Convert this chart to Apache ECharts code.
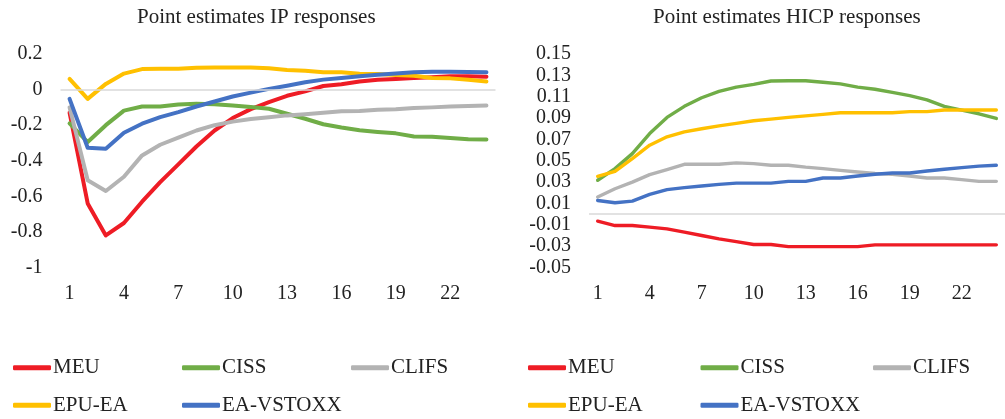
<!DOCTYPE html>
<html>
<head>
<meta charset="utf-8">
<script src="https://cdn.jsdelivr.net/npm/echarts@6/dist/echarts.min.js"></script>
<style>
  html, body { margin: 0; padding: 0; background: #fff; }
  #chart { width: 1005px; height: 419px; }
</style>
</head>
<body>
<div id="chart"></div>
<script>
// horizons 1..24
var periods = [];
for (var i = 1; i <= 24; i++) periods.push(String(i));

var seriesNames = ["MEU", "CISS", "CLIFS", "EPU-EA", "EA-VSTOXX"];
var colors = ["#ee1c25", "#70ad47", "#b3b3b3", "#ffc000", "#4472c4"];

// IP responses (left panel)
var ipMEU = [-0.13, -0.64, -0.82, -0.75, -0.63, -0.52, -0.42, -0.32, -0.23, -0.16, -0.11, -0.07,
  -0.035, -0.01, 0.02, 0.03, 0.045, 0.055, 0.06, 0.065, 0.07, 0.075, 0.075, 0.072];
var ipCISS = [-0.19, -0.295, -0.2, -0.118, -0.095, -0.095, -0.084, -0.08, -0.082, -0.09, -0.098, -0.108,
  -0.136, -0.164, -0.195, -0.213, -0.228, -0.238, -0.246, -0.264, -0.265, -0.272, -0.279, -0.28];
var ipCLIFS = [-0.10, -0.51, -0.57, -0.49, -0.37, -0.31, -0.27, -0.23, -0.2, -0.18, -0.165, -0.155,
  -0.145, -0.138, -0.13, -0.122, -0.12, -0.113, -0.11, -0.103, -0.1, -0.095, -0.092, -0.09];
var ipEPU = [0.06, -0.052, 0.032, 0.09, 0.115, 0.117, 0.117, 0.123, 0.124, 0.124, 0.124, 0.12,
  0.11, 0.106, 0.098, 0.097, 0.089, 0.088, 0.082, 0.078, 0.065, 0.063, 0.055, 0.045];
var ipVSTOXX = [-0.052, -0.327, -0.332, -0.243, -0.192, -0.155, -0.127, -0.095, -0.067, -0.039, -0.017, 0.004,
  0.022, 0.041, 0.056, 0.065, 0.075, 0.084, 0.09, 0.098, 0.1, 0.1, 0.099, 0.097];

// HICP responses (right panel)
var hicpMEU = [-0.0066, -0.0107, -0.0107, -0.0122, -0.0138, -0.0169, -0.02, -0.0232, -0.0258, -0.0285, -0.0285, -0.0304,
  -0.0304, -0.0304, -0.0304, -0.0304, -0.0288, -0.0288, -0.0288, -0.0288, -0.0288, -0.0288, -0.0288, -0.0288];
var hicpCISS = [0.0317, 0.0426, 0.0567, 0.0755, 0.0906, 0.101, 0.109, 0.115, 0.119, 0.1216, 0.1247, 0.125,
  0.125, 0.1235, 0.122, 0.119, 0.117, 0.114, 0.111, 0.107, 0.101, 0.0975, 0.094, 0.0896];
var hicpCLIFS = [0.016, 0.0238, 0.030, 0.037, 0.0417, 0.0467, 0.0467, 0.0467, 0.048, 0.0473, 0.0458, 0.0458,
  0.044, 0.0426, 0.041, 0.0395, 0.038, 0.0373, 0.0357, 0.0338, 0.0338, 0.0323, 0.0307, 0.0307];
var hicpEPU = [0.0354, 0.040, 0.052, 0.0646, 0.0724, 0.077, 0.080, 0.0827, 0.085, 0.0875, 0.089, 0.0906,
  0.092, 0.0934, 0.095, 0.095, 0.095, 0.095, 0.096, 0.096, 0.0975, 0.0975, 0.0975, 0.0975];
var hicpVSTOXX = [0.0128, 0.0107, 0.0122, 0.0185, 0.0229, 0.0248, 0.0263, 0.0279, 0.029, 0.029, 0.029, 0.0307,
  0.0307, 0.0338, 0.0338, 0.0357, 0.0373, 0.0385, 0.0385, 0.0404, 0.042, 0.0436, 0.045, 0.0458];

var ipData = [ipMEU, ipCISS, ipCLIFS, ipEPU, ipVSTOXX];
var hicpData = [hicpMEU, hicpCISS, hicpCLIFS, hicpEPU, hicpVSTOXX];

var font = "Liberation Serif";
var textColor = "#222";

function makeSeries(dataList, axisIndex, width) {
  var out = [];
  for (var i = 0; i < dataList.length; i++) {
    var s = {
      name: seriesNames[i],
      type: "line",
      xAxisIndex: axisIndex,
      yAxisIndex: axisIndex,
      data: dataList[i],
      symbol: "none",
      color: colors[i],
      lineStyle: { width: width, color: colors[i], cap: "round", join: "round" }
    };
    if (i === 0) {
      s.markLine = {
        silent: true,
        symbol: "none",
        label: { show: false },
        lineStyle: { color: "#d9d9d9", width: 1.5, type: "solid" },
        data: [{ yAxis: 0 }]
      };
    }
    out.push(s);
  }
  return out;
}

function xAxisFor(gridIndex) {
  return {
    type: "category",
    gridIndex: gridIndex,
    data: periods,
    boundaryGap: true,
    axisLine: { show: false },
    axisTick: { show: false },
    axisLabel: { interval: 2, margin: 16, color: textColor, fontFamily: font, fontSize: 20 }
  };
}

function legendFor(left, textWidth) {
  return {
    left: left,
    top: 354,
    width: 3 * (38 + 4 + textWidth + 10),
    padding: 0,
    itemGap: 10,
    icon: "roundRect",
    itemWidth: 38,
    itemHeight: 5,
    textStyle: { color: textColor, fontFamily: font, fontSize: 21, width: textWidth, lineHeight: 27.5, padding: [0, 0, 0, -3] },
    data: seriesNames
  };
}

var myChart = echarts.init(document.getElementById("chart"));

var option = {
  animation: false,
  backgroundColor: "#fff",
  title: [
    {
      text: "Point estimates IP responses",
      left: 137, top: 7, padding: 0,
      textStyle: { fontFamily: font, fontSize: 21, fontWeight: "normal", color: textColor }
    },
    {
      text: "Point estimates HICP responses",
      left: 653, top: 7, padding: 0,
      textStyle: { fontFamily: font, fontSize: 21, fontWeight: "normal", color: textColor }
    }
  ],
  legend: [legendFor(13, 119), legendFor(528, 122.5)],
  grid: [
    { left: 60.5, width: 435, top: 54, bottom: 151.5 },
    { left: 589, width: 426, top: 54, bottom: 151.5 }
  ],
  xAxis: [xAxisFor(0), xAxisFor(1)],
  yAxis: [
    {
      type: "value",
      gridIndex: 0,
      min: -1, max: 0.2, interval: 0.2,
      axisLine: { show: false }, axisTick: { show: false }, splitLine: { show: false },
      axisLabel: {
        margin: 18, color: textColor, fontFamily: font, fontSize: 20,
        formatter: function (v) { return String(+v.toFixed(1)); }
      }
    },
    {
      type: "value",
      gridIndex: 1,
      min: -0.05, max: 0.15, interval: 0.02,
      axisLine: { show: false }, axisTick: { show: false }, splitLine: { show: false },
      axisLabel: {
        margin: 18, color: textColor, fontFamily: font, fontSize: 20,
        formatter: function (v) { return v.toFixed(2); }
      }
    }
  ],
  series: makeSeries(ipData, 0, 4).concat(makeSeries(hicpData, 1, 3.4))
};

myChart.setOption(option);
</script>
</body>
</html>
